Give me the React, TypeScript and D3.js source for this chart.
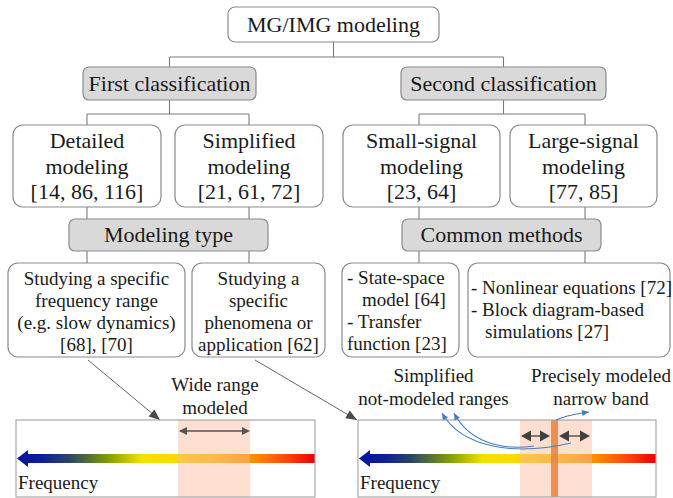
import React, { useEffect, useRef } from "react";
import * as d3 from "d3";

// ---------- content ----------
const ROOT_LABEL = "MG/IMG modeling";
const CLASS_LABELS = ["First classification", "Second classification"];
const MODEL_LABELS = [
  ["Detailed", "modeling", "[14, 86, 116]"],
  ["Simplified", "modeling", "[21, 61, 72]"],
  ["Small-signal", "modeling", "[23, 64]"],
  ["Large-signal", "modeling", "[77, 85]"],
];
const GROUP_LABELS = ["Modeling type", "Common methods"];
const DETAIL_LABELS = [
  ["Studying a specific", "frequency range", "(e.g. slow dynamics)", "[68], [70]"],
  ["Studying a", "specific", "phenomena or", "application [62]"],
  ["- State-space", "model [64]", "- Transfer", "function [23]"],
  ["- Nonlinear equations [72]", "- Block diagram-based", "simulations [27]"],
];
const LEFT_BAND_LABEL = ["Wide range", "modeled"];
const RIGHT_BAND_LABELS = [
  ["Simplified", "not-modeled ranges"],
  ["Precisely modeled", "narrow band"],
];
const AXIS_LABEL = "Frequency";

// ---------- layout (geometry kept apart from content) ----------
const W = 673;
const H = 498;
const BIG = 22;
const SMALL = 19;
const LINE = "#7a7a7a";
const BOX_STROKE = "#8a8a8a";
const GRAY_FILL = "#d9d9d9";
const TEXT = "#1a1a1a";
const SERIF = '"Times New Roman"';

const ROOT_BOX = { x0: 228, x1: 439, y0: 7, y1: 42 };
const CLASS_X = [[83, 256], [401, 606]];
const CLASS_Y = [67, 100];
const MODEL_X = [[13, 161], [175, 323], [343, 500], [510, 657]];
const MODEL_Y = [125, 207];
const MODEL_BASE = [23, 48.5, 74];
const GROUP_X = [[69, 268], [402, 601]];
const GROUP_Y = [219, 251];
const DETAIL_X = [[8, 185], [192, 325], [342, 459], [468, 670]];
const DETAIL_Y = [263, 357];
const COL_X = [87, 249, 419, 585];

const BARS = [
  { x0: 16, x1: 315, shade: [178, 250] as [number, number] },
  { x0: 358, x1: 656, shade: [520, 592] as [number, number], band: [551, 558] as [number, number] },
];
const BAR_Y = [420, 497];
const SHAFT_Y = [454, 463];

const GRAD_STOPS: [number, string][] = [
  [0, "#0a169e"],
  [0.08, "#0b1c9c"],
  [0.18, "#2b4566"],
  [0.3, "#7a9806"],
  [0.42, "#f2e200"],
  [0.52, "#ffd800"],
  [0.66, "#ffba10"],
  [0.8, "#ff8a00"],
  [0.9, "#ff4a0a"],
  [1, "#e80000"],
];

function tri(tip: [number, number], from: [number, number], len: number, half: number) {
  const dx = tip[0] - from[0];
  const dy = tip[1] - from[1];
  const d = Math.hypot(dx, dy) || 1;
  const ux = dx / d, uy = dy / d;
  const bx = tip[0] - ux * len, by = tip[1] - uy * len;
  const p = d3.path();
  p.moveTo(tip[0], tip[1]);
  p.lineTo(bx - uy * half, by + ux * half);
  p.lineTo(bx + uy * half, by - ux * half);
  p.closePath();
  return p.toString();
}

function Box({ x0, x1, y0, y1, fill, r }: any) {
  return (
    <rect x={x0} y={y0} width={x1 - x0} height={y1 - y0} rx={r} ry={r}
      fill={fill} stroke={BOX_STROKE} strokeWidth={1.2} />
  );
}

function T({ children, x, y, size, anchor }: any) {
  return (
    <text x={x} y={y} textAnchor={anchor || "start"} fill={TEXT}
      style={{ font: `${size}px ${SERIF}` }}>
      {children}
    </text>
  );
}

export default function App() {
  const ref = useRef<SVGSVGElement | null>(null);
  useEffect(() => {
    if (ref.current) d3.select(ref.current).selectAll("text").style("font-family", SERIF);
  }, []);

  const line = d3.line();
  const connectors: [number, number][][] = [
    [[333.5, ROOT_BOX.y1], [333.5, 57]],
    [[169.5, 57], [503.5, 57]],
    [[169.5, 57], [169.5, CLASS_Y[0]]],
    [[503.5, 57], [503.5, CLASS_Y[0]]],
    [[169.5, CLASS_Y[1]], [169.5, 114]],
    [[503.5, CLASS_Y[1]], [503.5, 114]],
    [[COL_X[0], 114], [COL_X[1], 114]],
    [[COL_X[2], 114], [COL_X[3], 114]],
    ...COL_X.map((x) => [[x, 114], [x, MODEL_Y[0]]] as [number, number][]),
    ...COL_X.map((x) => [[x, MODEL_Y[1]], [x, GROUP_Y[0]]] as [number, number][]),
    ...COL_X.map((x) => [[x, GROUP_Y[1]], [x, DETAIL_Y[0]]] as [number, number][]),
  ];

  const detailBase = [284.5, 306.5, 328.5, 350.5];
  const ssBase = [284, 306, 328, 350];
  const ssX = [347, 362, 347, 347];
  const nlBase = [294, 316, 338];
  const nlX = [471, 471, 485];

  const pointers: [[number, number], [number, number]][] = [
    [[88, 360], [160, 420]],
    [[255, 360], [357, 420]],
  ];

  const blue = "#4a7cb8";
  const curves = [
    { s: [534, 446], c1: [498, 451], c2: [468, 440], e: [454, 413] },
    { s: [571, 443], c1: [515, 456], c2: [462, 448], e: [442, 413] },
    { s: [556, 420], c1: [566, 415], c2: [576, 414], e: [589, 412] },
  ];

  return (
    <div style={{ position: "fixed", left: 0, top: 0 }}>
      <svg ref={ref} width={W} height={H} viewBox={`0 0 ${W} ${H}`}
        style={{ display: "block", background: "#fff" }}>
        <defs>
          {BARS.map((b, i) => (
            <linearGradient key={i} id={`freq${i}`} gradientUnits="userSpaceOnUse"
              x1={b.x0} x2={b.x1} y1={0} y2={0}>
              {GRAD_STOPS.map(([o, c], j) => (
                <stop key={j} offset={o} stopColor={c} />
              ))}
            </linearGradient>
          ))}
        </defs>

        {connectors.map((pts, i) => (
          <path key={i} d={line(pts) || ""} stroke={LINE} strokeWidth={1.1} fill="none" />
        ))}

        <Box {...ROOT_BOX} fill="#fff" r={7} />
        <T x={(ROOT_BOX.x0 + ROOT_BOX.x1) / 2} y={32} anchor="middle" size={BIG}>{ROOT_LABEL}</T>

        {CLASS_LABELS.map((t, i) => (
          <g key={i}>
            <Box x0={CLASS_X[i][0]} x1={CLASS_X[i][1]} y0={CLASS_Y[0]} y1={CLASS_Y[1]} fill={GRAY_FILL} r={6} />
            <T x={(CLASS_X[i][0] + CLASS_X[i][1]) / 2} y={91} anchor="middle" size={BIG}>{t}</T>
          </g>
        ))}

        {MODEL_LABELS.map((lines, i) => (
          <g key={i}>
            <Box x0={MODEL_X[i][0]} x1={MODEL_X[i][1]} y0={MODEL_Y[0]} y1={MODEL_Y[1]} fill="#fff" r={10} />
            {lines.map((t, j) => (
              <T key={j} x={(MODEL_X[i][0] + MODEL_X[i][1]) / 2} y={MODEL_Y[0] + MODEL_BASE[j]}
                anchor="middle" size={BIG}>{t}</T>
            ))}
          </g>
        ))}

        {GROUP_LABELS.map((t, i) => (
          <g key={i}>
            <Box x0={GROUP_X[i][0]} x1={GROUP_X[i][1]} y0={GROUP_Y[0]} y1={GROUP_Y[1]} fill={GRAY_FILL} r={6} />
            <T x={(GROUP_X[i][0] + GROUP_X[i][1]) / 2} y={242} anchor="middle" size={BIG}>{t}</T>
          </g>
        ))}

        {DETAIL_LABELS.map((lines, i) => (
          <g key={i}>
            <Box x0={DETAIL_X[i][0]} x1={DETAIL_X[i][1]} y0={DETAIL_Y[0]} y1={DETAIL_Y[1]} fill="#fff" r={10} />
            {lines.map((t, j) => {
              if (i < 2)
                return (
                  <T key={j} x={(DETAIL_X[i][0] + DETAIL_X[i][1]) / 2} y={detailBase[j]}
                    anchor="middle" size={SMALL}>{t}</T>
                );
              if (i === 2) return <T key={j} x={ssX[j]} y={ssBase[j]} size={SMALL}>{t}</T>;
              return <T key={j} x={nlX[j]} y={nlBase[j]} size={SMALL}>{t}</T>;
            })}
          </g>
        ))}

        {pointers.map(([a, b], i) => (
          <g key={i}>
            <path d={line([a, b]) || ""} stroke="#666" strokeWidth={1} fill="none" />
            <path d={tri(b, a, 11, 4.5)} fill="#4a4a4a" />
          </g>
        ))}

        {BARS.map((b, i) => {
          const tipX = b.x0 + 1;
          const headX = b.x0 + 12;
          const cy = (SHAFT_Y[0] + SHAFT_Y[1]) / 2;
          const arrow = d3.path();
          arrow.moveTo(tipX, cy);
          arrow.lineTo(headX, cy - 8.5);
          arrow.lineTo(headX, SHAFT_Y[0]);
          arrow.lineTo(b.x1, SHAFT_Y[0]);
          arrow.lineTo(b.x1, SHAFT_Y[1]);
          arrow.lineTo(headX, SHAFT_Y[1]);
          arrow.lineTo(headX, cy + 8.5);
          arrow.closePath();
          return (
            <g key={i}>
              <rect x={b.x0} y={BAR_Y[0]} width={b.x1 - b.x0} height={BAR_Y[1] - BAR_Y[0]} fill="#fff" />
              <path d={arrow.toString()} fill={`url(#freq${i})`} />
              <rect x={b.shade[0]} y={BAR_Y[0]} width={b.shade[1] - b.shade[0]} height={BAR_Y[1] - BAR_Y[0]}
                fill="#f9b899" fillOpacity={0.45} />
              {b.band && (
                <rect x={b.band[0]} y={BAR_Y[0]} width={b.band[1] - b.band[0]} height={BAR_Y[1] - BAR_Y[0]}
                  fill="#e4823f" fillOpacity={0.85} />
              )}
              <rect x={b.x0} y={BAR_Y[0]} width={b.x1 - b.x0} height={BAR_Y[1] - BAR_Y[0]} fill="none"
                stroke="#a8a8a8" strokeWidth={1.2} />
              <T x={b.x0 + 2} y={489} size={SMALL}>{AXIS_LABEL}</T>
            </g>
          );
        })}

        <g>
          <path d={line([[180, 431], [248, 431]]) || ""} stroke="#555" strokeWidth={1.3} />
          <path d={tri([179, 431], [190, 431], 8, 4)} fill="#555" />
          <path d={tri([250, 431], [240, 431], 8, 4)} fill="#555" />
        </g>
        {[[521, 550], [559, 590]].map(([a, b], i) => (
          <g key={i}>
            <path d={line([[a + 4, 436], [b - 4, 436]]) || ""} stroke="#404040" strokeWidth={1.3} />
            <path d={tri([a, 436], [a + 10, 436], 10, 5.5)} fill="#404040" />
            <path d={tri([b, 436], [b - 10, 436], 10, 5.5)} fill="#404040" />
          </g>
        ))}

        {curves.map((c, i) => {
          const p = d3.path();
          p.moveTo(c.s[0], c.s[1]);
          p.bezierCurveTo(c.c1[0], c.c1[1], c.c2[0], c.c2[1], c.e[0], c.e[1]);
          return (
            <g key={i}>
              <path d={p.toString()} stroke={blue} strokeWidth={1.1} fill="none" />
              <path d={tri(c.e as [number, number], c.c2 as [number, number], 7, 3)} fill={blue} />
            </g>
          );
        })}

        {LEFT_BAND_LABEL.map((t, j) => (
          <T key={j} x={215} y={[391, 414][j]} anchor="middle" size={SMALL}>{t}</T>
        ))}
        {RIGHT_BAND_LABELS.map((lines, i) =>
          lines.map((t, j) => (
            <T key={`${i}-${j}`} x={[433.5, 601][i]} y={[382, 405][j]} anchor="middle" size={SMALL}>{t}</T>
          ))
        )}
      </svg>
    </div>
  );
}
